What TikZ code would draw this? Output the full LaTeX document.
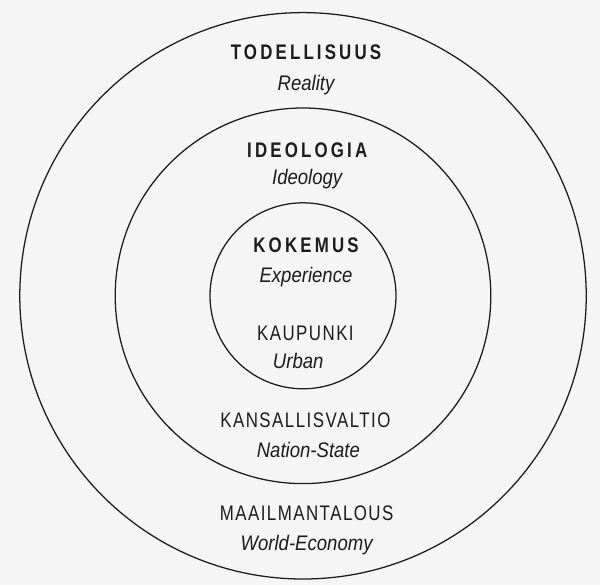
\documentclass[tikz,border=0pt]{standalone}
\usepackage{fontspec}
\setmainfont{Liberation Sans}
\newfontfamily\headfont[FakeStretch=0.8,LetterSpace=15]{Liberation Sans}
\newfontfamily\capsfont[FakeStretch=0.8,LetterSpace=7]{Liberation Sans}
\newfontfamily\glossfont[FakeStretch=0.88]{Liberation Sans}
\definecolor{paper}{RGB}{245,245,245}
\definecolor{ink}{RGB}{28,28,28}

\begin{document}
\begin{tikzpicture}[
    ring/.style={draw=ink, line width=0.6pt},
    head/.style={font=\headfont\bfseries\fontsize{10}{12}\selectfont, text=ink, anchor=base, inner sep=0pt},
    caps/.style={font=\capsfont\fontsize{10}{12}\selectfont, text=ink, anchor=base, inner sep=0pt},
    gloss/.style={font=\glossfont\itshape\fontsize{10}{12}\selectfont, text=ink, anchor=base, inner sep=0pt}]
    \fill[paper] (0,0) rectangle (10,9.75);
    % the three rings
    \coordinate (centre) at (5.05,4.82);
    \draw[ring] (centre) circle (4.72);
    \draw[ring] (centre) circle (3.13);
    \draw[ring] (centre) circle (1.55);
    % upper labels
    \node[head] (todellisuus) at (5.10,8.75) {TODELLISUUS};
    \node[gloss] (reality) at ([yshift=-0.5cm]todellisuus.base) {Reality};
    \node[head] (ideologia) at (5.12,7.133) {IDEOLOGIA};
    \node[gloss] (ideology) at ([yshift=-0.45cm]ideologia.base) {Ideology};
    \node[head] (kokemus) at (5.10,5.55) {KOKEMUS};
    \node[gloss] (experience) at ([yshift=-0.5cm]kokemus.base) {Experience};
    % lower labels
    \node[caps] (kaupunki) at (5.09,4.083) {KAUPUNKI};
    \node[gloss] (urban) at ([xshift=-0.12cm,yshift=-0.47cm]kaupunki.base) {Urban};
    \node[caps] (kansallisvaltio) at (5.09,2.617) {KANSALLISVALTIO};
    \node[gloss] (nationstate) at ([xshift=0.05cm,yshift=-0.5cm]kansallisvaltio.base) {Nation-State};
    \node[caps] (maailmantalous) at (5.11,1.083) {MAAILMANTALOUS};
    \node[gloss] (worldeconomy) at ([yshift=-0.5cm]maailmantalous.base) {World-Economy};
\end{tikzpicture}
\end{document}
